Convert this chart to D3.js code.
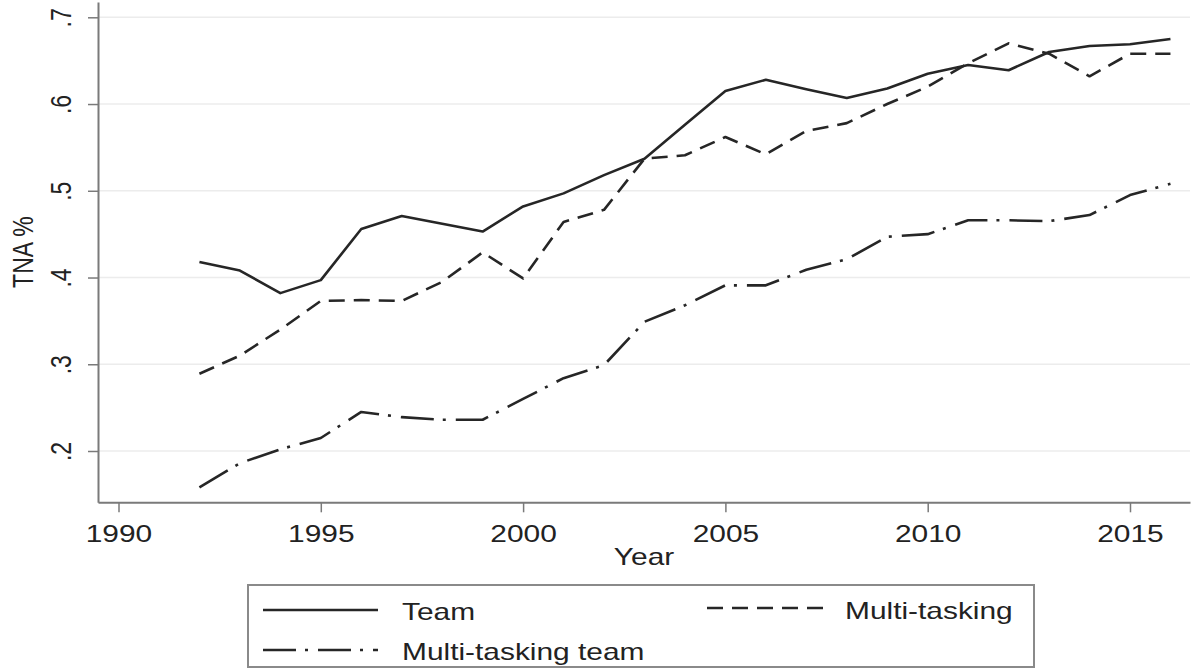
<!DOCTYPE html>
<html><head><meta charset="utf-8">
<script src="https://cdn.jsdelivr.net/npm/d3@7"></script>
<style>body{margin:0;background:#fff}svg{display:block}text{font-family:"Liberation Sans",Arial,sans-serif;fill:#222}</style>
</head><body><svg id="c" width="1197" height="672"></svg>
<script>
const years = [1992,1993,1994,1995,1996,1997,1998,1999,2000,2001,2002,2003,2004,2005,2006,2007,2008,2009,2010,2011,2012,2013,2014,2015,2016];
const team = [0.418,0.408,0.382,0.397,0.456,0.471,0.462,0.453,0.482,0.497,0.518,0.537,0.576,0.615,0.628,0.617,0.607,0.618,0.635,0.645,0.639,0.660,0.667,0.669,0.675];
const multiTasking = [0.289,0.310,0.340,0.373,0.374,0.373,0.395,0.429,0.399,0.464,0.478,0.537,0.541,0.562,0.542,0.569,0.578,0.600,0.620,0.647,0.670,0.658,0.632,0.658,0.658];
const multiTaskingTeam = [0.158,0.186,0.202,0.215,0.245,0.239,0.236,0.236,0.260,0.284,0.299,0.349,0.368,0.391,0.391,0.409,0.421,0.447,0.450,0.466,0.466,0.465,0.472,0.495,0.508];
const xTicks = [1990,1995,2000,2005,2010,2015];
const yTicks = [0.2,0.3,0.4,0.5,0.6,0.7];
const yTickLabels = [".2",".3",".4",".5",".6",".7"];
const seriesNames = ["Team","Multi-tasking","Multi-tasking team"];

const svg = d3.select("#c");
const SX = 1.3; // horizontal text stretch
const L = 98, R = 1190, T = 2, B = 502.3;
const base = d3.scaleLinear().domain([1990,2015]).range([118.5,1130]);
const x = d3.scaleLinear().domain([base.invert(L), base.invert(R)]).range([L,R]);
const ybase = d3.scaleLinear().domain([0.2,0.7]).range([451,17.3]);
const y = d3.scaleLinear().domain([ybase.invert(B), ybase.invert(T)]).range([B,T]);

// gridlines
svg.append("g").selectAll("line").data(yTicks).join("line")
  .attr("x1", L).attr("x2", R).attr("y1", d=>y(d)).attr("y2", d=>y(d))
  .attr("stroke","#ececec").attr("stroke-width",1.5);

// axes
const gx = svg.append("g").attr("transform",`translate(0,${B})`)
  .call(d3.axisBottom(x).tickValues(xTicks).tickSize(10).tickSizeOuter(0).tickFormat(d3.format("d")));
gx.select(".domain").attr("stroke","#7a7a7a").attr("stroke-width",2);
gx.selectAll(".tick line").attr("stroke","#7a7a7a").attr("stroke-width",1.5);
gx.selectAll(".tick text").remove();
gx.selectAll(".tick").append("text")
  .attr("transform",`translate(0,40) scale(${SX},1)`)
  .attr("text-anchor","middle").style("font-size","23px").attr("fill","#222")
  .text(d=>d3.format("d")(d));

const gy = svg.append("g").attr("transform",`translate(${L},0)`)
  .call(d3.axisLeft(y).tickValues(yTicks).tickSize(10).tickSizeOuter(0));
gy.select(".domain").attr("stroke","#7a7a7a").attr("stroke-width",2);
gy.selectAll(".tick line").attr("stroke","#7a7a7a").attr("stroke-width",1.5);
gy.selectAll(".tick text").remove();
gy.selectAll(".tick").append("text")
  .attr("transform",`translate(-27,0) rotate(-90) scale(1,${SX})`)
  .attr("text-anchor","middle").style("font-size","23px").attr("fill","#222")
  .text((d,i)=>yTickLabels[yTicks.indexOf(d)]);

// axis titles
svg.append("text").attr("transform",`translate(${(L+R)/2},565) scale(${SX},1)`)
  .attr("text-anchor","middle").style("font-size","23px").text("Year");
svg.append("text").attr("transform",`translate(33,${(T+B)/2}) rotate(-90) scale(1,${SX})`)
  .attr("text-anchor","middle").style("font-size","23px").text("TNA %");

// lines
const dashes = [null, "16,9", "33,9,3,10"];
const data = [team, multiTasking, multiTaskingTeam];
const line = d3.line().x((d,i)=>x(years[i])).y(d=>y(d));
data.forEach((s,k)=>{
  svg.append("path").datum(s).attr("d",line)
    .attr("fill","none").attr("stroke","#262626").attr("stroke-width",2.6)
    .attr("stroke-linejoin","round")
    .attr("stroke-dasharray",dashes[k]);
});

// legend
const lg = svg.append("g");
lg.append("rect").attr("x",248).attr("y",585).attr("width",786).attr("height",82)
  .attr("fill","#fff").attr("stroke","#8a8a8a").attr("stroke-width",2);
const items = [
  {x1:263,x2:378,ly:610,tx:402,ty:620},
  {x1:707,x2:825,ly:608,tx:845,ty:619},
  {x1:263,x2:378,ly:650,tx:402,ty:660}
];
items.forEach((it,k)=>{
  lg.append("line").attr("x1",it.x1).attr("x2",it.x2).attr("y1",it.ly).attr("y2",it.ly)
    .attr("stroke","#262626").attr("stroke-width",2.6).attr("stroke-dasharray",dashes[k]);
  lg.append("text").attr("transform",`translate(${it.tx},${it.ty}) scale(${SX},1)`)
    .style("font-size","23px").text(seriesNames[k]);
});
</script></body></html>
